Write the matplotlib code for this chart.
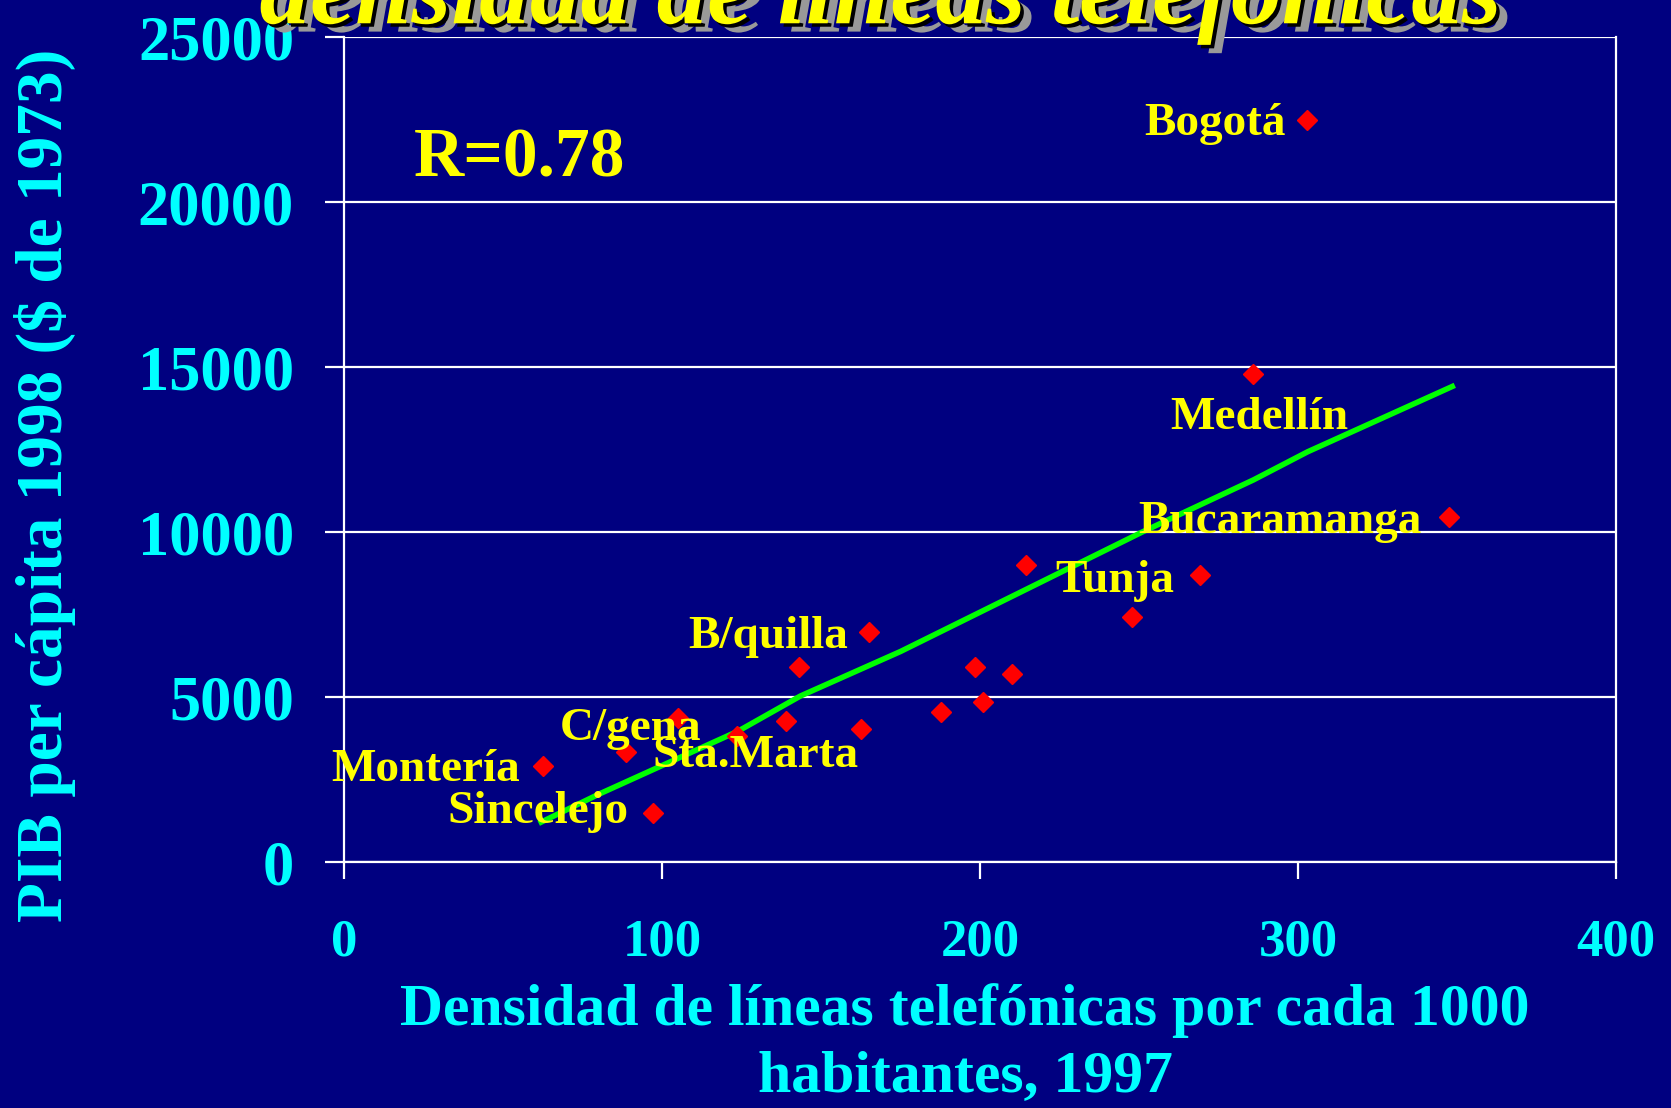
import matplotlib
matplotlib.use("Agg")
import matplotlib.pyplot as plt
import matplotlib.patheffects as pe
import numpy as np

# densidad telefonica (lineas por 1000 hab., 1997) vs PIB per capita 1998
densidad = [302.8, 285.7, 347.4, 269.2, 214.3, 247.8, 198.5, 210.2, 200.8, 187.6,
            165.0, 143.0, 162.6, 139.0, 105.1, 88.7, 123.5, 62.7, 97.2]
pib = [22500, 14800, 10450, 8700, 9000, 7430, 5920, 5690, 4860, 4560,
       6980, 5920, 4040, 4270, 4350, 3340, 3815, 2900, 1500]

# tendencia
tend_x = [62, 80, 124, 143.5, 175, 251, 286, 303, 348.5]
tend_y = [1210, 2050, 3970, 5030, 6380, 10000, 11580, 12430, 14410]

ciudades = ["Bogotá", "Medellín", "Bucaramanga", "Tunja", "B/quilla",
            "C/gena", "Sta.Marta", "Montería", "Sincelejo"]
etiqueta_x = [251.5, 259.8, 249.8, 223.6, 108.3, 67.7, 96.9, -4.0, 32.5]
etiqueta_y = [22350, 13440, 10300, 8530, 6815, 4040, 3200, 2780, 1520]

x_ticks = [0, 100, 200, 300, 400]
y_ticks = [0, 5000, 10000, 15000, 20000, 25000]

navy = "#000080"
cyan = "#00FFFF"
yellow = "#FFFF00"
serif = ["Liberation Serif", "DejaVu Serif"]

fig = plt.figure(figsize=(16.71, 11.08), dpi=100, facecolor=navy)
ax = fig.add_axes([0.2059, 0.222, 0.7612, 0.7446])
ax.set_facecolor(navy)

ax.set_xlim(0, 400)
ax.set_ylim(0, 25000)
ax.set_xticks(x_ticks)
ax.set_yticks(y_ticks)
ax.yaxis.grid(True, color="white", linewidth=1.6)
ax.set_axisbelow(True)
for s in ["left", "bottom", "right"]:
    ax.spines[s].set_color("white")
    ax.spines[s].set_linewidth(1.6)
ax.spines["top"].set_visible(False)

ax.tick_params(axis="y", colors="white", length=14, width=1.6, pad=22,
               labelcolor=cyan, labelsize=45)
ax.tick_params(axis="x", colors="white", length=12, width=1.6, pad=29,
               labelcolor=cyan, labelsize=38)
for lab in ax.get_xticklabels() + ax.get_yticklabels():
    lab.set_family(serif)
    lab.set_fontweight("bold")

ax.plot(tend_x, tend_y, color="#00FF00", linewidth=4, zorder=3)
ax.plot(densidad, pib, linestyle="none", marker="D", color="red",
        markersize=10.5, zorder=4)

for nombre, tx, ty in zip(ciudades, etiqueta_x, etiqueta_y):
    ax.text(tx, ty, nombre, ha="left", va="center", color=yellow,
            fontsize=34, fontweight="bold", family=serif, zorder=5)

ax.text(21.8, 21300, "R=0.78", ha="left", va="center", color=yellow,
        fontsize=50, fontweight="bold", family=serif, zorder=5)

fig.text(0.5775, 0.058, "Densidad de líneas telefónicas por cada 1000\nhabitantes, 1997",
         ha="center", va="center", color=cyan, fontsize=43, fontweight="bold",
         family=serif, linespacing=1.3)
fig.text(0.027, 0.562, "PIB per cápita 1998 ($ de 1973)", rotation=90,
         ha="center", va="center", color=cyan, fontsize=47, fontweight="bold",
         family=serif)

fig.text(0.527, 0.979, "densidad de líneas telefónicas", ha="center", va="baseline",
         color=yellow, fontsize=73, fontweight="bold", fontstyle="italic",
         family=serif, zorder=10,
         path_effects=[pe.SimplePatchShadow(offset=(8, -6), shadow_rgbFace="#999999", alpha=1),
                       pe.SimplePatchShadow(offset=(2.5, -2.5), shadow_rgbFace="black", alpha=1),
                       pe.Normal()])

fig.savefig("out.png", dpi=100, facecolor=navy)
